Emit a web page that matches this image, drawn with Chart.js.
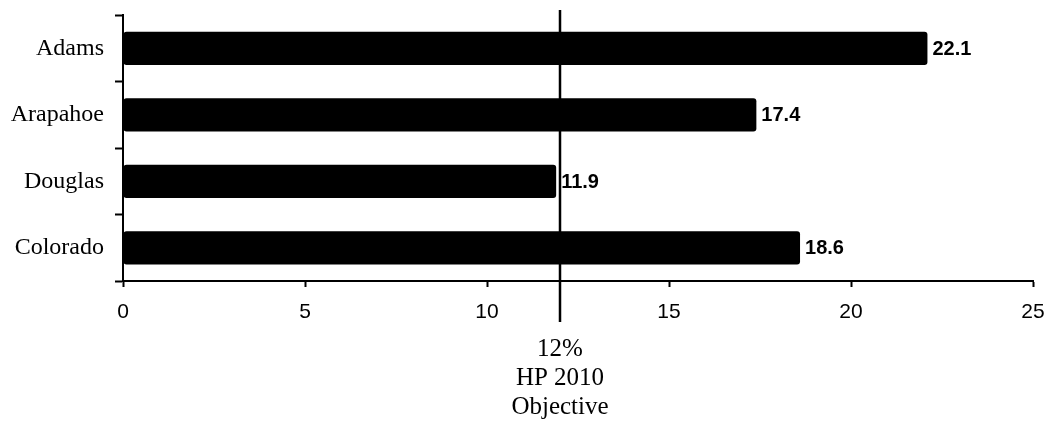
<!DOCTYPE html>
<html>
<head>
<meta charset="utf-8">
<script src="https://cdn.jsdelivr.net/npm/chart.js@4.4.1/dist/chart.umd.min.js"></script>
<style>
  html, body { margin: 0; padding: 0; background: #fff; }
  #wrap { width: 1045px; height: 423px; position: relative; }
</style>
</head>
<body>
<div id="wrap"><canvas id="c" width="1045" height="423"></canvas></div>
<script>
// Counties and the state total
const categories = ['Adams', 'Arapahoe', 'Douglas', 'Colorado'];
// Rate per county (%)
const values = [22.1, 17.4, 11.9, 18.6];
// x-axis tick values
const xTicks = [0, 5, 10, 15, 20, 25];
// Healthy People 2010 target and its caption
const objective = 12;
const objectiveLabel = ['12%', 'HP 2010', 'Objective'];

const SERIF = '"Liberation Serif", "Times New Roman", serif';
const SANS = '"Liberation Sans", Arial, sans-serif';

// Writes each bar's value just past its end
const valueLabels = {
  id: 'valueLabels',
  afterDatasetsDraw(chart) {
    const ctx = chart.ctx;
    const meta = chart.getDatasetMeta(0);
    ctx.save();
    ctx.fillStyle = '#000';
    ctx.font = 'bold 20px ' + SANS;
    ctx.textAlign = 'left';
    ctx.textBaseline = 'middle';
    meta.data.forEach((bar, i) => {
      ctx.fillText(values[i].toFixed(1), bar.x + 5, bar.y + 1);
    });
    ctx.restore();
  }
};

// Vertical reference line at the objective, with its caption below the axis
const objectiveLine = {
  id: 'objectiveLine',
  afterDraw(chart) {
    const ctx = chart.ctx;
    const x = Math.round(chart.scales.x.getPixelForValue(objective));
    ctx.save();
    ctx.strokeStyle = '#000';
    ctx.lineWidth = 2.5;
    ctx.beginPath();
    ctx.moveTo(x, 10);
    ctx.lineTo(x, 322);
    ctx.stroke();
    ctx.fillStyle = '#000';
    ctx.font = '25px ' + SERIF;
    ctx.textAlign = 'center';
    ctx.textBaseline = 'middle';
    objectiveLabel.forEach((t, i) => {
      ctx.fillText(t, x, 349 + i * 29);
    });
    ctx.restore();
  }
};

new Chart(document.getElementById('c'), {
  type: 'bar',
  data: {
    labels: categories,
    datasets: [{
      data: values,
      backgroundColor: '#000',
      borderColor: '#000',
      borderWidth: 0,
      borderRadius: 3,
      borderSkipped: false,
      categoryPercentage: 1,
      barPercentage: 0.5
    }]
  },
  options: {
    indexAxis: 'y',
    responsive: false,
    animation: false,
    layout: { padding: { top: 15, right: 12, bottom: 0, left: 0 } },
    plugins: {
      legend: { display: false },
      tooltip: { enabled: false }
    },
    scales: {
      x: {
        type: 'linear',
        min: xTicks[0],
        max: xTicks[xTicks.length - 1],
        afterBuildTicks(scale) {
          scale.ticks = xTicks.map(v => ({ value: v }));
        },
        afterFit(scale) {
          scale.height = 142;
          scale.paddingLeft = 0;
          scale.paddingRight = 0;
        },
        border: { display: true, color: '#000', width: 2 },
        grid: {
          drawOnChartArea: false,
          drawTicks: true,
          tickLength: 6,
          tickWidth: 2,
          tickColor: '#000'
        },
        ticks: {
          color: '#000',
          padding: 13,
          maxRotation: 0,
          font: { family: SANS, size: 21 }
        }
      },
      y: {
        afterFit(scale) {
          scale.width = 123;
          scale.paddingTop = 0;
          scale.paddingBottom = 0;
        },
        border: { display: true, color: '#000', width: 2 },
        grid: {
          offset: true,
          drawOnChartArea: false,
          drawTicks: true,
          tickLength: 8,
          tickWidth: 2,
          tickColor: '#000'
        },
        ticks: {
          color: '#000',
          padding: 11,
          font: { family: SERIF, size: 24 }
        }
      }
    }
  },
  plugins: [valueLabels, objectiveLine]
});
</script>
</body>
</html>
